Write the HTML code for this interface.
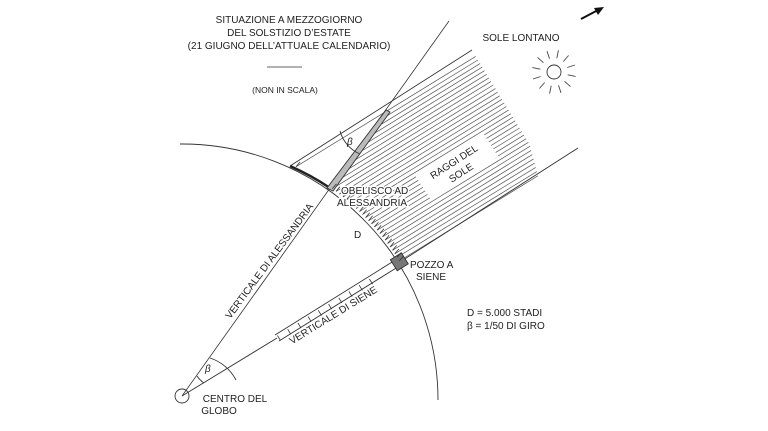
<!DOCTYPE html>
<html><head><meta charset="utf-8"><style>
html,body{margin:0;padding:0;background:#fff;}
svg{display:block;font-family:"Liberation Sans",sans-serif;}
text{fill:#222;}
</style></head><body>
<svg id="s" width="768" height="431" viewBox="0 0 768 431" xmlns="http://www.w3.org/2000/svg">
<g id="rays" stroke="#555" stroke-width="0.7"></g>
<g fill="none" stroke="#333" stroke-width="0.9">
<path d="M180 144 A256 256 0 0 1 438 400"/>
<path d="M290 166 A256 256 0 0 1 330 188" stroke-width="2.5" stroke="#222"/>
<line x1="182" y1="396" x2="449" y2="21" stroke-width="0.8"/>
<line x1="290" y1="166" x2="472" y2="50"/>
<line x1="400" y1="262" x2="578" y2="148"/>
<line x1="182" y1="396" x2="277" y2="338"/>
<line x1="275" y1="335" x2="397" y2="259"/>
<line x1="279" y1="341" x2="401" y2="265"/>
<polygon points="327,188 333,191 390,112 386,110" fill="#bbb"/>
<path d="M197 376 A25 25 0 0 0 204 383"/>
<path d="M210 358 A45 45 0 0 1 236 380"/>
<path d="M340 131 A35 35 0 0 0 360 154"/>
<circle cx="182" cy="396" r="7"/>
<rect x="393" y="255" width="13" height="13" transform="rotate(-32 400 262)" fill="#777"/>
<circle cx="554" cy="72" r="7"/>
<line x1="581" y1="19" x2="600" y2="9" stroke-width="2" stroke="#111"/>
</g>
<polygon points="604,7 594,8 598,15" fill="#111"/>
<g id="tick" stroke="#333" stroke-width="0.8"></g>
<g id="sun" stroke="#444" stroke-width="0.9"></g>
<g font-size="10" text-anchor="middle">
<text x="289" y="23">SITUAZIONE A MEZZOGIORNO</text>
<text x="289" y="36">DEL SOLSTIZIO D’ESTATE</text>
<text x="289" y="49">(21 GIUGNO DELL’ATTUALE CALENDARIO)</text>
<line x1="267" y1="67" x2="302" y2="67" stroke="#333" stroke-width="0.8"/>
<text x="285" y="93" font-size="8.5">(NON IN SCALA)</text>
<text x="521" y="41">SOLE LONTANO</text>
<text x="235" y="402">CENTRO DEL</text>
<text x="219" y="414">GLOBO</text>
</g>
<g font-size="10">
<text x="341" y="194" style="paint-order:stroke" stroke="#fff" stroke-width="3">OBELISCO AD</text>
<text x="337" y="206" style="paint-order:stroke" stroke="#fff" stroke-width="3">ALESSANDRIA</text>
<text x="354" y="238">D</text>
<text x="410" y="268" style="paint-order:stroke" stroke="#fff" stroke-width="3">POZZO A</text>
<text x="416" y="280">SIENE</text>
<text x="467" y="316">D = 5.000 STADI</text>
<text x="467" y="329">β = 1/50 DI GIRO</text>
<text x="347" y="145" font-style="italic">β</text>
<text x="205" y="372" font-style="italic">β</text>
<text transform="translate(272,263) rotate(-53.5)" text-anchor="middle">VERTICALE DI ALESSANDRIA</text>
<text transform="translate(335,318) rotate(-31.6)" text-anchor="middle">VERTICALE DI SIENE</text>
<g transform="translate(458,168) rotate(-33)">
<rect x="-40" y="-16" width="80" height="28" fill="#fff"/>
<text x="0" y="-4" text-anchor="middle">RAGGI DEL</text>
<text x="0" y="9" text-anchor="middle">SOLE</text>
</g>
</g>
<script>
(function(){
var ns="http://www.w3.org/2000/svg";
function L(g,x1,y1,x2,y2){var l=document.createElementNS(ns,"line");l.setAttribute("x1",x1.toFixed(1));l.setAttribute("y1",y1.toFixed(1));l.setAttribute("x2",x2.toFixed(1));l.setAttribute("y2",y2.toFixed(1));document.getElementById(g).appendChild(l);}
var dx=0.852,dy=-0.523,nx=0.523,ny=0.852,Cx=182,Cy=396,R=256;
var Cs=Cx*nx+Cy*ny,Ct=Cx*dx+Cy*dy;
function P(s,t){return [s*nx+t*dx,s*ny+t*dy];}
for(var s=297;s<432;s+=4.2){
 var sr=s-Cs; var tc=Ct+Math.sqrt(R*R-sr*sr);
 var t0=tc;
 if(s>=297.6&&s<=332.8){var f=(s-297.6)/35.2;t0=272.5+(183-272.5)*f;}
 var te=376-(s>400?(s-400)*0.3:0);
 var a=P(s,t0),b=P(s,te);
 L("rays",a[0],a[1],b[0],b[1]);
 if(t0===tc){var e=P(s-2,tc+6);L("tick",a[0],a[1],e[0],e[1]);}
}
for(var k=0;k<10;k++){var x=279+k*12*dx,y=338+k*12*dy;L("tick",x-3*nx*-1*0+(-3)*nx,y-3*ny,x+3*nx,y+3*ny);}
for(var i=0;i<12;i++){var an=i*Math.PI/6+0.2;L("sun",554+14*Math.cos(an),72+14*Math.sin(an),554+22*Math.cos(an),72+22*Math.sin(an));}
})();
</script>
</svg>
</body></html>
